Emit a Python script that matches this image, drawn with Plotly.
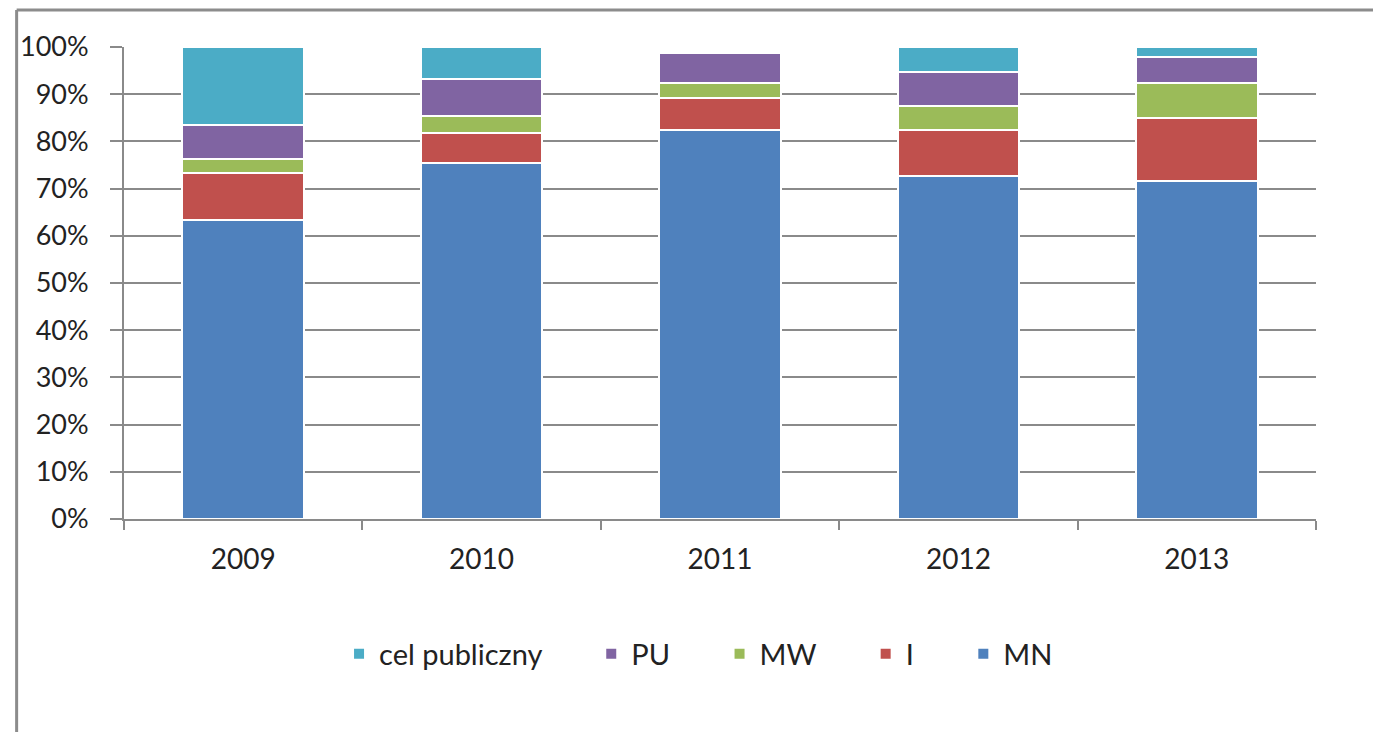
import plotly.graph_objects as go

# data
years = ["2009", "2010", "2011", "2012", "2013"]
mn = [63.3, 75.5, 82.4, 72.7, 71.7]
i_vals = [10.1, 6.2, 6.7, 9.7, 13.2]
mw = [2.8, 3.7, 3.2, 5.1, 7.4]
pu = [7.3, 7.8, 6.5, 7.3, 5.5]
cel = [16.5, 6.8, 0.0, 5.2, 2.2]

series = [
    ("MN", mn, "#4F81BD"),
    ("I", i_vals, "#C0504D"),
    ("MW", mw, "#9BBB59"),
    ("PU", pu, "#8064A2"),
    ("cel publiczny", cel, "#4BACC6"),
]

# the page has an 8px body margin, so the figure is shrunk by that much
W, H = 1373, 724
L, R, T, B = 109, 65, 39, 213
pw, ph = W - L - R, H - T - B

pad = "\u00a0" * 6  # widen the gaps between legend entries

fig = go.Figure()
for name, vals, color in series:
    fig.add_trace(go.Bar(
        x=years, y=vals,
        name=name if name == "MN" else name + pad,
        marker=dict(color=color, line=dict(color="white", width=2)),
    ))

grid = "#8a8a8a"
frame = "#8c8c8c"
fig.update_layout(
    width=W, height=H,
    margin=dict(l=L, r=R, t=T, b=B),
    barmode="stack",
    bargap=0.49,
    plot_bgcolor="white",
    paper_bgcolor="white",
    font=dict(family="Lato, Open Sans, sans-serif", color="#222222"),
    legend=dict(
        orientation="h", traceorder="reversed",
        x=0.482, xanchor="center", y=-(646 - 511) / ph, yanchor="middle",
        font=dict(size=29), itemwidth=30,
    ),
    xaxis=dict(
        type="category", showline=True, linecolor=grid, linewidth=2,
        ticks="outside", tickson="boundaries", ticklen=9, tickcolor=grid,
        tickwidth=2, tickfont=dict(size=28), showgrid=False,
        ticklabelstandoff=14,
    ),
    yaxis=dict(
        range=[0, 100], dtick=10, ticksuffix="%",
        showline=True, linecolor=grid, linewidth=2,
        ticks="outside", ticklen=12, tickcolor=grid, tickwidth=2,
        showgrid=True, gridcolor=grid, gridwidth=2,
        tickfont=dict(size=27), zeroline=False,
        ticklabelstandoff=16,
    ),
    shapes=[
        # outer chart frame (left and top edges)
        dict(type="line", xref="paper", yref="paper",
             x0=(1 - L) / pw, x1=(1 - L) / pw, y0=(T + ph - 2) / ph, y1=-B / ph,
             line=dict(color=frame, width=3)),
        dict(type="line", xref="paper", yref="paper",
             x0=(1 - L) / pw, x1=(W - L) / pw, y0=(T + ph - 2) / ph, y1=(T + ph - 2) / ph,
             line=dict(color=frame, width=3)),
    ],
)

fig.write_html("out.html")
